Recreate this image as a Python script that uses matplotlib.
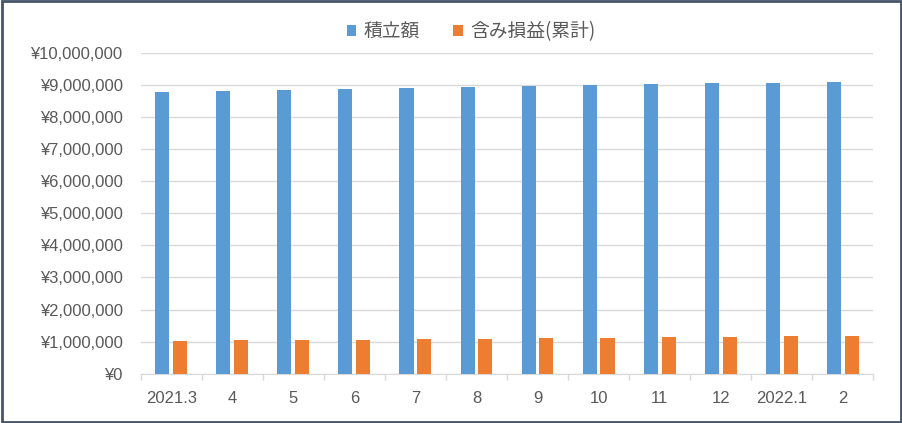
import matplotlib
matplotlib.use("Agg")
import matplotlib.pyplot as plt
import numpy as np
from matplotlib.ticker import FuncFormatter
from matplotlib.patches import Rectangle

plt.rcParams['font.family'] = ['Noto Sans CJK JP', 'DejaVu Sans']

categories = ["2021.3", "4", "5", "6", "7", "8", "9", "10", "11", "12", "2022.1", "2"]
contributions = [8780000, 8810000, 8840000, 8875000, 8905000, 8940000,
                 8970000, 9000000, 9030000, 9060000, 9060000, 9095000]
gains = [1010000, 1040000, 1040000, 1040000, 1075000, 1075000,
         1110000, 1110000, 1140000, 1140000, 1175000, 1175000]
series_names = ["積立額", "含み損益(累計)"]

blue = "#5B9BD5"
orange = "#ED7D31"
gray = "#595959"

fig = plt.figure(figsize=(9.02, 4.23), dpi=100)
W, H = 902, 423
ax = fig.add_axes([140.7 / W, 1 - 373.7 / H, (873.3 - 140.7) / W, (373.7 - 53) / H])

x = np.arange(len(categories))
bw = 0.23
off = 0.146
ax.bar(x - off, contributions, bw, color=blue, label=series_names[0], zorder=3)
ax.bar(x + off, gains, bw, color=orange, label=series_names[1], zorder=3)

ax.set_xlim(-0.5, len(categories) - 0.5)
ax.set_ylim(0, 10000000)
ax.set_yticks(np.arange(0, 10000001, 1000000))
ax.yaxis.set_major_formatter(FuncFormatter(lambda v, p: "¥{:,}".format(int(v))))
ax.set_xticks(x)
ax.set_xticklabels(categories)
ax.set_xticks(np.arange(-0.5, len(categories), 1), minor=True)
ax.tick_params(axis='x', which='major', length=0, pad=12.5, labelsize=12, labelcolor=gray)
ax.tick_params(axis='x', which='minor', length=4.5, color="#D9D9D9", width=1)
ax.tick_params(axis='y', length=0, pad=13, labelsize=12, labelcolor=gray)
for lbl in ax.get_xticklabels() + ax.get_yticklabels():
    lbl.set_family(['Liberation Sans', 'DejaVu Sans'])

ax.grid(axis='y', color="#D9D9D9", linewidth=1, zorder=0)
for s in ['top', 'right', 'left']:
    ax.spines[s].set_visible(False)
ax.spines['bottom'].set_color("#D9D9D9")

leg = fig.legend(loc='center', bbox_to_anchor=(471 / W, 1 - 32 / H), ncol=2, frameon=False,
                 fontsize=13.5, handlelength=0.5, handleheight=0.5, columnspacing=1.8,
                 handletextpad=0.4)
for t in leg.get_texts():
    t.set_color(gray)

fig.patches.append(Rectangle((1.5 / W, 1.5 / H), 1 - 3 / W, 1 - 3 / H, transform=fig.transFigure,
                             fill=False, edgecolor="#44546A", linewidth=2))

fig.savefig("out.png", dpi=100)
